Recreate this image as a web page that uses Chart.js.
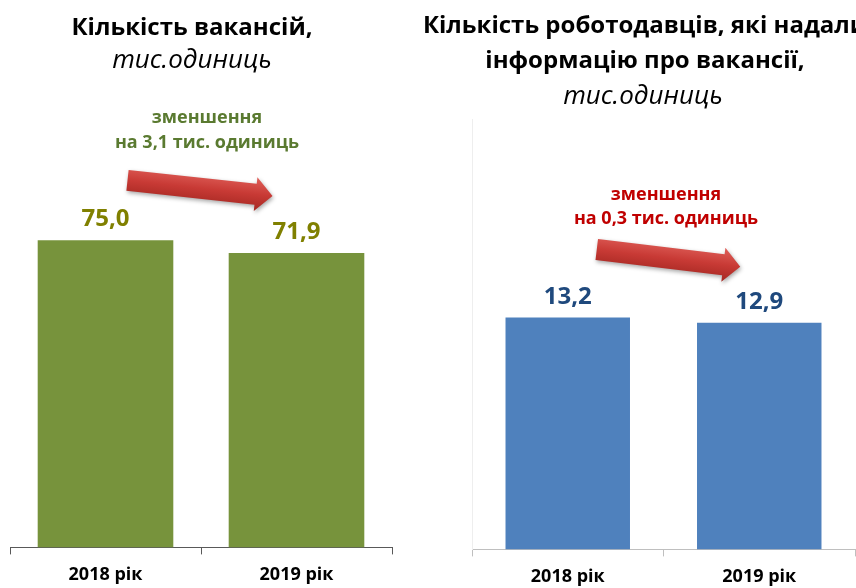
<!DOCTYPE html>
<html>
<head>
<meta charset="utf-8">
<script src="https://cdn.jsdelivr.net/npm/chart.js@4.4.0/dist/chart.umd.min.js"></script>
<style>
  html, body { margin: 0; padding: 0; background: #fff; overflow: hidden; }
  #wrap { position: relative; width: 856px; height: 588px; overflow: hidden; }
  .box { position: absolute; top: 0; height: 600px; }
</style>
</head>
<body>
<div id="wrap">
  <div class="box" style="left:0;width:410px"><canvas id="vacChart"></canvas></div>
  <div class="box" style="left:410px;width:450px"><canvas id="empChart"></canvas></div>
</div>
<script>
// Data
const years = ['2018 рік', '2019 рік'];
const vacancies = [75.0, 71.9];
const employers = [13.2, 12.9];

const vacTitle = ['Кількість вакансій,'];
const empTitle = ['Кількість роботодавців, які надали', 'інформацію про вакансії,'];
const unitText = 'тис.одиниць';
const vacNote = ['зменшення', 'на 3,1 тис. одиниць'];
const empNote = ['зменшення', 'на 0,3 тис. одиниць'];

Chart.defaults.font.family = "'Open Sans', sans-serif";

const fmt = v => v.toFixed(1).replace('.', ',');

// titles and notes, drawn as plain text lines
const textLines = {
  id: 'textLines',
  afterDraw(chart, args, opts) {
    const ctx = chart.ctx;
    ctx.save();
    ctx.textAlign = 'center';
    ctx.textBaseline = 'alphabetic';
    opts.lines.forEach(l => {
      ctx.font = l.font;
      ctx.fillStyle = l.color;
      ctx.fillText(l.text, l.x, l.y);
    });
    ctx.restore();
  }
};

// value labels above the bars
const barValues = {
  id: 'barValues',
  afterDatasetsDraw(chart, args, opts) {
    const ctx = chart.ctx;
    const meta = chart.getDatasetMeta(0);
    const data = chart.data.datasets[0].data;
    ctx.save();
    ctx.font = opts.font;
    ctx.fillStyle = opts.color;
    ctx.textAlign = 'center';
    ctx.textBaseline = 'alphabetic';
    meta.data.forEach((bar, i) => {
      ctx.fillText(fmt(data[i]), bar.x, bar.y - 14);
    });
    ctx.restore();
  }
};

// red arrow from the first bar towards the second
const trendArrow = {
  id: 'trendArrow',
  afterDraw(chart, args, opts) {
    const bars = chart.getDatasetMeta(0).data;
    const x0 = bars[0].x + opts.from[0], y0 = bars[0].y + opts.from[1];
    const x1 = bars[1].x + opts.to[0], y1 = bars[1].y + opts.to[1];
    const ang = Math.atan2(y1 - y0, x1 - x0);
    const len = Math.hypot(x1 - x0, y1 - y0);
    const w = 10.5, hw = 17, hl = 17;
    const ctx = chart.ctx;
    ctx.save();
    ctx.translate(x0, y0);
    ctx.rotate(ang);
    ctx.beginPath();
    ctx.moveTo(0, -w);
    ctx.lineTo(len - hl, -w);
    ctx.lineTo(len - hl, -hw);
    ctx.lineTo(len, 0);
    ctx.lineTo(len - hl, hw);
    ctx.lineTo(len - hl, w);
    ctx.lineTo(0, w);
    ctx.closePath();
    const g = ctx.createLinearGradient(0, -hw, 0, hw);
    g.addColorStop(0, '#e0605a');
    g.addColorStop(0.5, '#c83a35');
    g.addColorStop(1, '#a52822');
    ctx.shadowColor = 'rgba(0,0,0,0.35)';
    ctx.shadowBlur = 4;
    ctx.shadowOffsetX = 1;
    ctx.shadowOffsetY = 2;
    ctx.fillStyle = g;
    ctx.fill();
    ctx.restore();
  }
};

const tickFont = { size: 18, weight: 'bold' };

// Left chart: vacancies
new Chart(document.getElementById('vacChart'), {
  type: 'bar',
  data: {
    labels: years,
    datasets: [{
      data: vacancies,
      backgroundColor: '#77933C',
      barPercentage: 0.71,
      categoryPercentage: 1
    }]
  },
  options: {
    responsive: true,
    maintainAspectRatio: false,
    animation: false,
    layout: { padding: { left: 10, right: 18, top: 138, bottom: 4 } },
    plugins: {
      legend: { display: false },
      tooltip: { enabled: false },
      barValues: { font: "bold 24px 'Open Sans'", color: '#808000' },
      trendArrow: { from: [22, -60], to: [-24, -57] },
      textLines: {
        lines: [
          { text: vacTitle[0], font: "bold 24px 'Open Sans'", color: '#000', x: 192, y: 35 },
          { text: unitText, font: "italic 26px 'Open Sans'", color: '#000', x: 192, y: 68 },
          { text: vacNote[0], font: "bold 18px 'Open Sans'", color: '#5A7A30', x: 207, y: 123 },
          { text: vacNote[1], font: "bold 18px 'Open Sans'", color: '#5A7A30', x: 207, y: 148 }
        ]
      }
    },
    scales: {
      x: {
        grid: { drawOnChartArea: false, tickLength: 7, color: '#595959' },
        border: { color: '#595959' },
        ticks: { color: '#000', font: tickFont, padding: 10 }
      },
      y: { display: false, min: 0, max: 100 }
    }
  },
  plugins: [barValues, trendArrow, textLines]
});

// Right chart: employers (canvas starts at x=410)
new Chart(document.getElementById('empChart'), {
  type: 'bar',
  data: {
    labels: years,
    datasets: [{
      data: employers,
      backgroundColor: '#4F81BD',
      barPercentage: 0.65,
      categoryPercentage: 1
    }]
  },
  options: {
    responsive: true,
    maintainAspectRatio: false,
    animation: false,
    layout: { padding: { left: 62, right: 5, top: 119, bottom: 2 } },
    plugins: {
      legend: { display: false },
      tooltip: { enabled: false },
      barValues: { font: "bold 24px 'Open Sans'", color: '#1F497D' },
      trendArrow: { from: [29, -68], to: [-19, -56] },
      textLines: {
        lines: [
          { text: empTitle[0], font: "bold 24px 'Open Sans'", color: '#000', x: 235, y: 33 },
          { text: empTitle[1], font: "bold 24px 'Open Sans'", color: '#000', x: 235, y: 68 },
          { text: unitText, font: "italic 26px 'Open Sans'", color: '#000', x: 233, y: 104 },
          { text: empNote[0], font: "bold 18px 'Open Sans'", color: '#C00000', x: 256, y: 200 },
          { text: empNote[1], font: "bold 18px 'Open Sans'", color: '#C00000', x: 256, y: 224 }
        ]
      }
    },
    scales: {
      x: {
        grid: { drawOnChartArea: false, tickLength: 7, color: '#BFBFBF' },
        border: { color: '#BFBFBF' },
        ticks: { color: '#000', font: tickFont, padding: 10 }
      },
      y: {
        min: 0,
        max: 24.5,
        grid: { display: false, drawTicks: false },
        ticks: { display: false },
        border: { color: '#EEEEEE' }
      }
    }
  },
  plugins: [barValues, trendArrow, textLines]
});
</script>
</body>
</html>
